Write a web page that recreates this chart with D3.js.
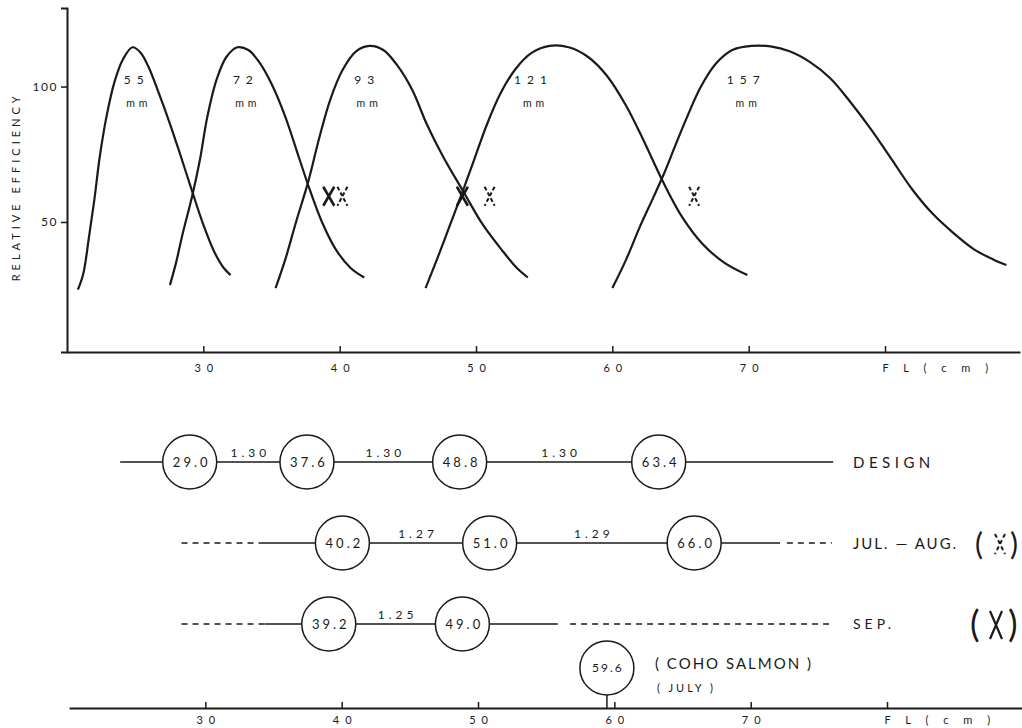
<!DOCTYPE html>
<html>
<head>
<meta charset="utf-8">
<script src="https://cdn.jsdelivr.net/npm/d3@7"></script>
<style>
  body { margin: 0; background: #fff; }
  text { font-family: "Lato", "DejaVu Sans", sans-serif; fill: #1a1a1a; }
</style>
</head>
<body>
<div id="chart"></div>
<script>
// selectivity curves, [fork length cm, relative efficiency]
const meshSizes = ["55", "72", "93", "121", "157"];
const labelFL = [24.9, 32.9, 41.8, 54.0, 69.6];
const curve55 = [[20.8,25],[21.2,31],[21.6,44],[22.0,58],[22.4,74],[22.9,89],[23.5,102],[24.1,110],[24.8,114.5],[25.4,112.5],[26.0,107],[26.7,98],[27.5,87],[28.3,75],[29.2,61],[30.0,49],[30.8,39],[31.5,33],[32.0,30.4]];
const curve72 = [[27.55,26.7],[28.0,35],[28.5,46],[29.2,60],[29.75,73],[30.3,89],[31.0,103],[31.7,111],[32.5,114.5],[33.3,113.5],[34.1,109],[35.0,101],[36.0,89],[37.0,74],[37.8,62],[38.7,50],[39.7,40],[40.8,33],[41.8,29.5]];
const curve93 = [[35.3,25.6],[36.0,36],[36.8,50],[37.7,65],[38.5,81],[39.3,95],[40.2,106],[41.2,113],[42.2,115],[43.2,113.5],[44.2,108],[45.3,99],[46.4,86],[47.6,74],[49.1,61],[50.5,49],[52.0,39],[53.0,33],[53.8,29.5]];
const curve121 = [[46.3,25.6],[47.2,37],[48.1,49],[49.0,61],[49.9,73.5],[50.8,86],[51.8,97.5],[52.9,106.5],[54.1,112.5],[55.4,115],[56.8,114.5],[58.2,111],[59.6,104],[61.0,93],[62.3,80],[63.7,65],[65.1,52],[66.6,42],[68.2,35],[69.9,30.4]];
const curve157 = [[60.0,25.6],[61.0,36],[62.0,48],[63.0,59],[63.8,68],[64.6,78],[65.5,89],[66.5,100],[67.6,108.5],[68.8,113.5],[70.2,115],[71.6,114.8],[73.0,113],[74.5,109],[76.0,103],[77.5,94],[79.0,84],[80.5,73],[82.0,62],[83.5,53],[85.0,46],[86.5,40],[88.0,36],[88.9,34.1]];
const curves = [curve55, curve72, curve93, curve121, curve157];

const yTicks = [50, 100];
const xTicks = [30, 40, 50, 60, 70, 80];

// estimated modal lengths marked on the curves
const markerEff = 59.5;
const julAugMeans = [40.2, 51.0, 66.0];
const julAugRatios = ["1.27", "1.29"];
const sepMeans = [39.2, 49.0];
const sepRatios = ["1.25"];
const designMeans = [29.0, 37.6, 48.8, 63.4];
const designRatios = ["1.30", "1.30", "1.30"];
const cohoMean = 59.6;

// row line segments [from, to, dashed]
const designSegments = [[23.9, 76.2, false]];
const julAugSegments = [[28.4, 34.3, true], [34.3, 72.3, false], [72.8, 76.1, true]];
const sepSegments = [[28.4, 34.5, true], [34.5, 56.0, false], [56.9, 76.1, true]];

const width = 1022;
const height = 728;
const ink = "#1a1a1a";

const svg = d3.select("#chart")
  .append("svg")
  .attr("width", width)
  .attr("height", height)
  .attr("viewBox", [0, 0, width, height]);

// ---------- top chart ----------
const x = d3.scaleLinear().domain([20, 89.9]).range([67, 1020]);
const y = d3.scaleLinear().domain([2, 129]).range([352, 8]);

function styleXAxis(ax) {
  ax.select(".domain").attr("stroke", ink).attr("stroke-width", 2);
  ax.selectAll(".tick line").attr("stroke", ink).attr("stroke-width", 1.5);
  ax.selectAll(".tick text")
    .attr("font-size", 11).attr("fill", ink)
    .style("letter-spacing", "6px")
    .attr("text-anchor", d => d === 80 ? "start" : "middle")
    .attr("dx", d => d === 80 ? -3 : 3);
}

const xAxis = svg.append("g")
  .attr("transform", `translate(0,${y(2)})`)
  .call(d3.axisBottom(x).tickValues(xTicks).tickSizeInner(-6).tickSizeOuter(0).tickPadding(12)
    .tickFormat(d => d === 80 ? "F L ( c m )" : d));
styleXAxis(xAxis);

const yAxis = svg.append("g")
  .attr("transform", `translate(${x(20)},0)`)
  .call(d3.axisLeft(y).tickValues(yTicks).tickSizeOuter(0).tickSize(6).tickPadding(3));
yAxis.select(".domain").attr("stroke", ink).attr("stroke-width", 2);
yAxis.selectAll(".tick line").attr("stroke", ink).attr("stroke-width", 1.5);
yAxis.selectAll(".tick text").attr("font-size", 12).attr("fill", ink).style("letter-spacing", "1.5px");

svg.append("text")
  .attr("transform", `translate(20,${y(63)}) rotate(-90)`)
  .attr("text-anchor", "middle")
  .attr("font-size", 11)
  .style("letter-spacing", "4px")
  .text("RELATIVE EFFICIENCY");

const line = d3.line()
  .x(d => x(d[0]))
  .y(d => y(d[1]))
  .curve(d3.curveCatmullRom.alpha(0.5));

svg.selectAll(".curve")
  .data(curves)
  .join("path")
  .attr("class", "curve")
  .attr("d", line)
  .attr("fill", "none")
  .attr("stroke", ink)
  .attr("stroke-width", 2.2);

svg.selectAll(".mesh")
  .data(meshSizes)
  .join("text")
  .attr("class", "mesh")
  .attr("x", (d, i) => x(labelFL[i]) + 3)
  .attr("y", 84)
  .attr("text-anchor", "middle")
  .attr("font-size", 12)
  .style("letter-spacing", "6px")
  .text(d => d);

svg.selectAll(".mm")
  .data(meshSizes)
  .join("text")
  .attr("class", "mm")
  .attr("x", (d, i) => x(labelFL[i]) + 5)
  .attr("y", 107)
  .attr("text-anchor", "middle")
  .attr("font-size", 10.5)
  .style("letter-spacing", "4px")
  .text("mm");

function xPath(w, h) {
  return `M${-w / 2},${-h / 2}L${w / 2},${h / 2}M${w / 2},${-h / 2}L${-w / 2},${h / 2}`;
}

svg.selectAll(".sep-mark")
  .data(sepMeans)
  .join("path")
  .attr("class", "sep-mark")
  .attr("transform", d => `translate(${x(d)},${y(markerEff)})`)
  .attr("d", xPath(11, 19))
  .attr("fill", "none")
  .attr("stroke", ink)
  .attr("stroke-width", 2.6);

svg.selectAll(".jul-mark")
  .data(julAugMeans)
  .join("path")
  .attr("class", "jul-mark")
  .attr("transform", d => `translate(${x(d)},${y(markerEff)})`)
  .attr("d", xPath(10, 19))
  .attr("fill", "none")
  .attr("stroke", ink)
  .attr("stroke-width", 2)
  .attr("stroke-dasharray", "4,2.5");

// ---------- bottom chart ----------
const r = 27;

const bAxis = svg.append("g")
  .attr("transform", "translate(2,708)")
  .call(d3.axisBottom(x).tickValues(xTicks).tickSizeInner(-6).tickSizeOuter(0).tickPadding(8)
    .tickFormat(d => d === 80 ? "F L ( c m )" : d));
styleXAxis(bAxis);

const rows = [
  { y: 462, means: designMeans, ratios: designRatios, segs: designSegments },
  { y: 543, means: julAugMeans, ratios: julAugRatios, segs: julAugSegments },
  { y: 624, means: sepMeans, ratios: sepRatios, segs: sepSegments }
];

rows.forEach(row => {
  const g = svg.append("g");
  g.selectAll("line")
    .data(row.segs)
    .join("line")
    .attr("x1", d => x(d[0]))
    .attr("x2", d => x(d[1]))
    .attr("y1", row.y)
    .attr("y2", row.y)
    .attr("stroke", ink)
    .attr("stroke-width", 1.3)
    .attr("stroke-dasharray", d => d[2] ? "6,5" : null);

  g.selectAll("circle")
    .data(row.means)
    .join("circle")
    .attr("cx", d => x(d))
    .attr("cy", row.y)
    .attr("r", r)
    .attr("fill", "#fff")
    .attr("stroke", ink)
    .attr("stroke-width", 1.5);

  g.selectAll(".mean")
    .data(row.means)
    .join("text")
    .attr("class", "mean")
    .attr("x", d => x(d) + 2)
    .attr("y", row.y + 5)
    .attr("text-anchor", "middle")
    .attr("font-size", 13)
    .style("letter-spacing", "3px")
    .text(d => d.toFixed(1));

  g.selectAll(".ratio")
    .data(row.ratios)
    .join("text")
    .attr("class", "ratio")
    .attr("x", (d, i) => (x(row.means[i]) + x(row.means[i + 1])) / 2 + 2)
    .attr("y", row.y - 5)
    .attr("text-anchor", "middle")
    .attr("font-size", 12)
    .style("letter-spacing", "4px")
    .text(d => d);
});

svg.append("text").attr("x", 853).attr("y", 468).attr("font-size", 15)
  .style("letter-spacing", "4.5px").text("DESIGN");
svg.append("text").attr("x", 853).attr("y", 549).attr("font-size", 15)
  .style("letter-spacing", "2px").text("JUL. — AUG.");
svg.append("text").attr("x", 853).attr("y", 629).attr("font-size", 14)
  .style("letter-spacing", "4px").text("SEP.");

// legend symbols
svg.append("text").attr("x", 975).attr("y", 555).attr("font-size", 30).text("(");
svg.append("text").attr("x", 1010).attr("y", 555).attr("font-size", 30).text(")");
svg.append("path")
  .attr("transform", "translate(1000,544)")
  .attr("d", xPath(10, 20))
  .attr("fill", "none").attr("stroke", ink).attr("stroke-width", 2)
  .attr("stroke-dasharray", "4,3");

svg.append("text").attr("x", 970).attr("y", 637).attr("font-size", 36).text("(");
svg.append("text").attr("x", 1008).attr("y", 637).attr("font-size", 36).text(")");
svg.append("path")
  .attr("transform", "translate(996,625)")
  .attr("d", xPath(12, 28))
  .attr("fill", "none").attr("stroke", ink).attr("stroke-width", 2.2);

// coho salmon
svg.append("line")
  .attr("x1", x(cohoMean)).attr("x2", x(cohoMean))
  .attr("y1", 668 + r).attr("y2", 708)
  .attr("stroke", ink).attr("stroke-width", 1.5);
svg.append("circle")
  .attr("cx", x(cohoMean)).attr("cy", 668).attr("r", r)
  .attr("fill", "#fff").attr("stroke", ink).attr("stroke-width", 1.5);
svg.append("text")
  .attr("x", x(cohoMean) + 1).attr("y", 672)
  .attr("text-anchor", "middle").attr("font-size", 12)
  .style("letter-spacing", "2px")
  .text(cohoMean.toFixed(1));
svg.append("text").attr("x", 655).attr("y", 669).attr("font-size", 15)
  .style("letter-spacing", "2px").text("( COHO  SALMON )");
svg.append("text").attr("x", 657).attr("y", 692).attr("font-size", 11)
  .style("letter-spacing", "3px").text("( JULY )");
</script>
</body>
</html>
